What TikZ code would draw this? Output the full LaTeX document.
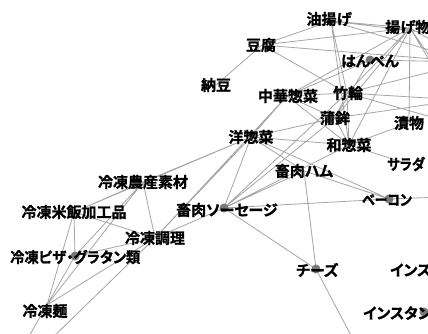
\documentclass[tikz,border=0pt]{standalone}
\usepackage{fontspec}
\usepackage{graphicx}
\newfontfamily\jp{Noto Sans CJK JP Bold}[RawFeature=+palt, FakeBold=1.2]
\definecolor{edgegray}{RGB}{165,165,165}
\definecolor{dotgray}{RGB}{120,120,120}
\tikzset{
  lab/.style={font=\jp\fontsize{15}{15}\selectfont, inner sep=0pt, text=black},
  edge/.style={draw=edgegray, line width=0.8pt},
  vdot/.style={circle, fill=dotgray, minimum size=9pt, inner sep=0pt},
}
\begin{document}
\begin{tikzpicture}[x=1pt,y=-1pt]
\useasboundingbox (0,0) rectangle (428,334);
\clip (0,0) rectangle (428,334);
\fill[white] (0,0) rectangle (428,334);
% node centres
\coordinate (abu) at (331,21);
\coordinate (age) at (410,28);
\coordinate (tofu) at (262,45);
\coordinate (natto) at (216,85);
\coordinate (hanpen) at (370,60);
\coordinate (chuka) at (287,96);
\coordinate (chikuwa) at (347,93);
\coordinate (kama) at (335,118);
\coordinate (tsuke) at (409,123);
\coordinate (yo) at (251,137);
\coordinate (wa) at (349,145);
\coordinate (salad) at (405,163);
\coordinate (ham) at (304,171);
\coordinate (nosan) at (143,182);
\coordinate (beihan) at (74,212);
\coordinate (saus) at (224,208);
\coordinate (bacon) at (389,199);
\coordinate (chori) at (155,238);
\coordinate (pizza) at (75,256);
\coordinate (men) at (47,305);
\coordinate (cheese) at (316,269);
\coordinate (insu) at (424,312);
% off-picture ends
\coordinate (o1) at (470,38);
\coordinate (o2) at (470,62);
\coordinate (o3) at (460,100);
\coordinate (o4) at (470,128);
\coordinate (o5) at (470,196);
\coordinate (o6) at (356,345);
\coordinate (o7) at (45,345);
\coordinate (o8) at (24,345);
% edges
\path[edge]
  (tofu) -- (natto) (tofu) -- (abu) (tofu) -- (age) (tofu) -- (o2) (tofu) -- (chikuwa)
  (abu) -- (age) (abu) -- (o1) (abu) -- (o2) (abu) -- (chikuwa) (abu) -- (wa)
  (age) -- (chikuwa) (age) -- (kama) (age) -- (wa) (age) -- (chuka) (age) -- (tsuke)
  (age) -- (o2) (age) -- (o4) (age) -- (o3)
  (hanpen) -- (chuka) (hanpen) -- (kama) (hanpen) -- (o2)
  (chikuwa) -- (chuka) (chikuwa) -- (kama) (chikuwa) -- (wa) (chikuwa) -- (o3)
  (chikuwa) -- (o4) (chikuwa) -- (o2) (chikuwa) -- (saus)
  (kama) -- (yo) (kama) -- (wa) (kama) -- (o3) (kama) -- (saus) (kama) -- (chuka)
  (wa) -- (yo) (wa) -- (chuka) (wa) -- (tsuke) (wa) -- (salad) (wa) -- (saus)
  (yo) -- (chuka) (yo) -- (ham) (yo) -- (bacon) (yo) -- (saus) (yo) -- (nosan)
  (yo) -- (chori) (yo) -- (beihan)
  (chuka) -- (chori)
  (saus) -- (ham) (saus) -- (bacon) (saus) -- (cheese) (saus) -- (chori)
  (ham) -- (bacon) (ham) -- (cheese)
  (bacon) -- (o5) (cheese) -- (o6)
  (nosan) -- (beihan) (nosan) -- (chori) (nosan) -- (pizza) (nosan) -- (men)
  (beihan) -- (chori) (beihan) -- (pizza) (beihan) -- (men)
  (chori) -- (pizza) (chori) -- (men) (chori) -- (o7)
  (pizza) -- (men) (men) -- (o8);
% visible dots
\node[vdot] (hanpenD) at (hanpen) {};
\node[vdot] (sausD) at (saus) {};
\node[vdot] (baconD) at (bacon) {};
\node[vdot] (pizzaD) at (pizza) {};
\node[vdot] (cheeseD) at (cheese) {};
\node[vdot] (insuD) at (insu) {};
% labels
\node[lab] (abuL) at (329,19) {油揚げ};
\node[lab, anchor=west] (ageL) at (385,27) {揚げ物};
\node[lab] (tofuL) at (261,45) {豆腐};
\node[lab] (nattoL) at (216,85) {納豆};
\node[lab] (hanpenL) at (370,61) {はんぺん};
\node[lab] (chukaL) at (288,96) {中華惣菜};
\node[lab] (chikuwaL) at (348,93) {竹輪};
\node[lab] (kamaL) at (335,118) {蒲鉾};
\node[lab] (tsukeL) at (409,123) {漬物};
\node[lab] (yoL) at (251,137) {洋惣菜};
\node[lab] (waL) at (349,145) {和惣菜};
\node[lab, anchor=west] (saladL) at (387,164) {\scalebox{0.88}[1]{サラダ}};
\node[lab] (hamL) at (304,171) {畜肉ハム};
\node[lab] (nosanL) at (143,182) {冷凍農産素材};
\node[lab] (beihanL) at (74,212) {冷凍米飯加工品};
\node[lab, anchor=west] (sausL) at (176,210) {畜肉ソーセージ};
\node[lab, anchor=west] (baconL) at (362,200) {\scalebox{0.86}[1]{ベーコン}};
\node[lab] (choriL) at (155,238) {冷凍調理};
\node[lab, anchor=west] (pizzaL) at (10,257) {\scalebox{0.95}[1]{冷凍ピザ・グラタン類}};
\node[lab] (menL) at (45,311) {冷凍麺};
\node[lab, anchor=west] (cheeseL) at (296,270) {チーズ};
\node[lab, anchor=west] (insu1L) at (390,270) {インス};
\node[lab, anchor=west] (insu2L) at (363,313) {インスタン};
\end{tikzpicture}
\end{document}
